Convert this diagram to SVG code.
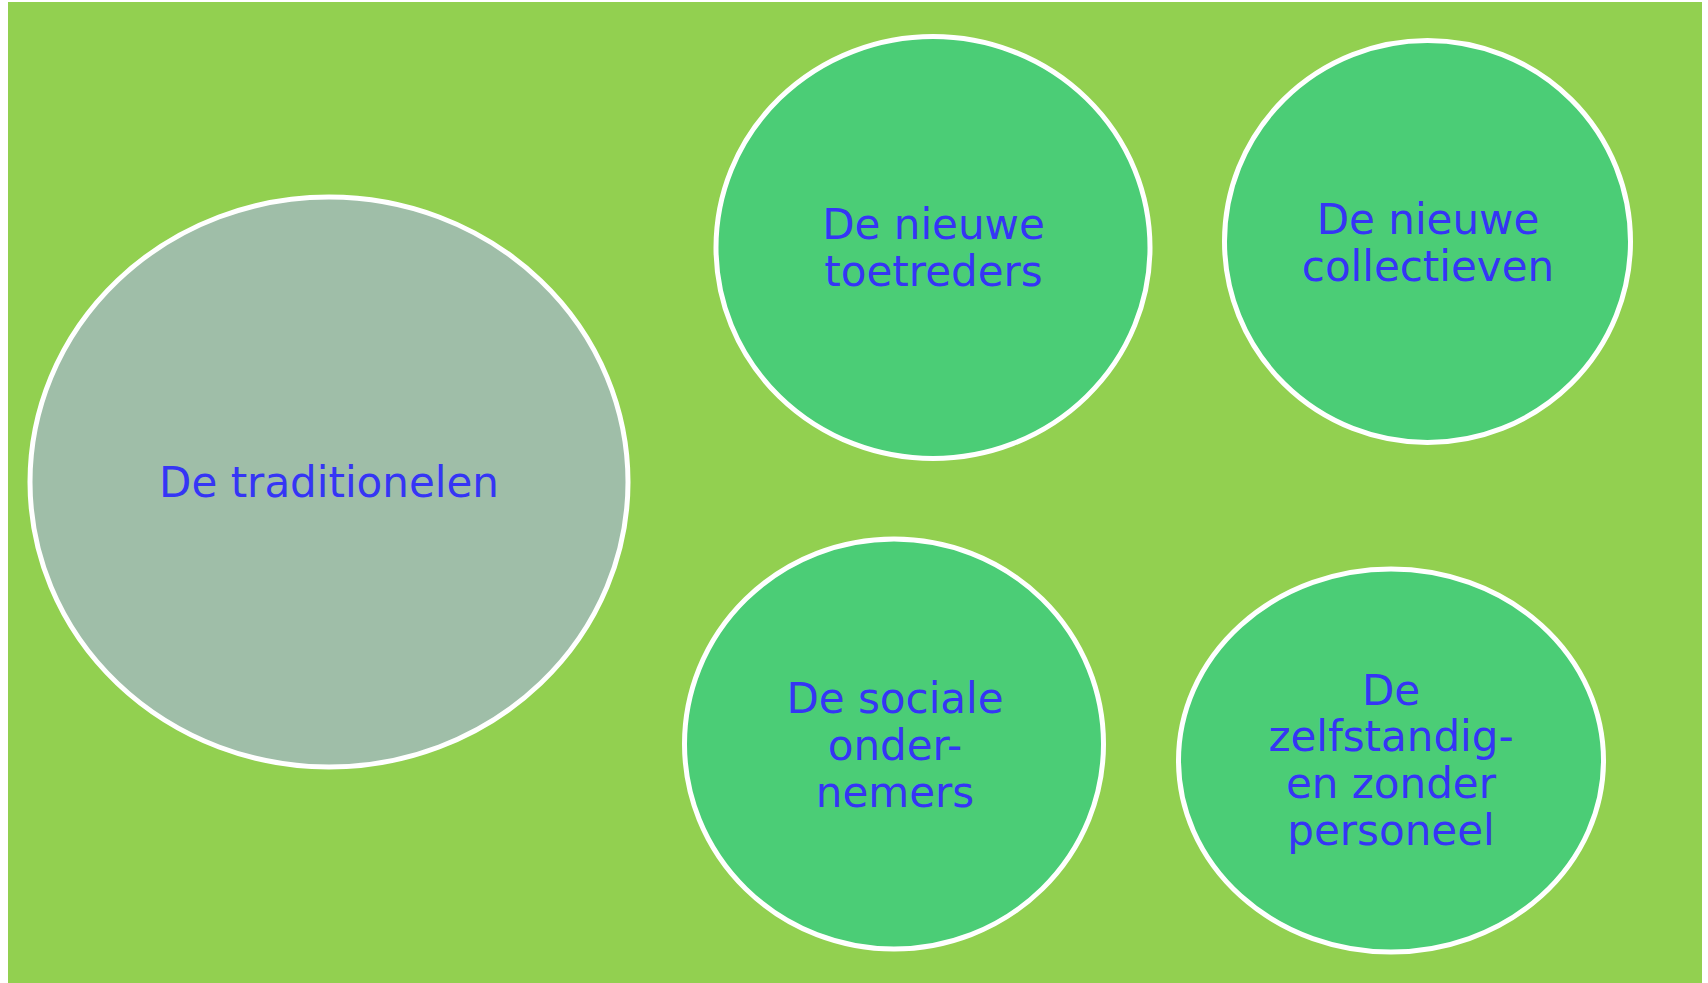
<svg xmlns="http://www.w3.org/2000/svg" width="1708" height="983" viewBox="0 0 1708 983">
<style>
.bub{stroke:#ffffff;stroke-width:5}
.g{fill:#4BCD76}
.t{fill:#9FBEA8}
text{font-family:"DejaVu Sans","Verdana",sans-serif;font-size:42px;fill:#3535F5;text-anchor:middle}
</style>
<rect x="0" y="0" width="1708" height="983" fill="#ffffff"/>
<rect id="background" x="8" y="2" width="1694" height="981" fill="#92D050"/>
<g id="connectors"></g>
<g id="node-traditionelen">
<ellipse class="bub t" cx="329" cy="482" rx="299" ry="285"/>
<text x="329" y="497">De traditionelen</text>
</g>
<g id="node-toetreders">
<ellipse class="bub g" cx="933" cy="247.5" rx="217" ry="211"/>
<text x="933.5" y="239">De nieuwe</text>
<text x="933.5" y="286">toetreders</text>
</g>
<g id="node-collectieven">
<ellipse class="bub g" cx="1427.5" cy="241.5" rx="203" ry="201"/>
<text x="1428" y="234">De nieuwe</text>
<text x="1428" y="281">collectieven</text>
</g>
<g id="node-sociale">
<ellipse class="bub g" cx="894" cy="744" rx="209.5" ry="205"/>
<text x="895" y="713">De sociale</text>
<text x="895" y="760">onder-</text>
<text x="895" y="807">nemers</text>
</g>
<g id="node-zzp">
<ellipse class="bub g" cx="1391" cy="760.5" rx="212.5" ry="191.5"/>
<text x="1391" y="705">De</text>
<text x="1391" y="751">zelfstandig-</text>
<text x="1391" y="798">en zonder</text>
<text x="1391" y="845">personeel</text>
</g>
</svg>
